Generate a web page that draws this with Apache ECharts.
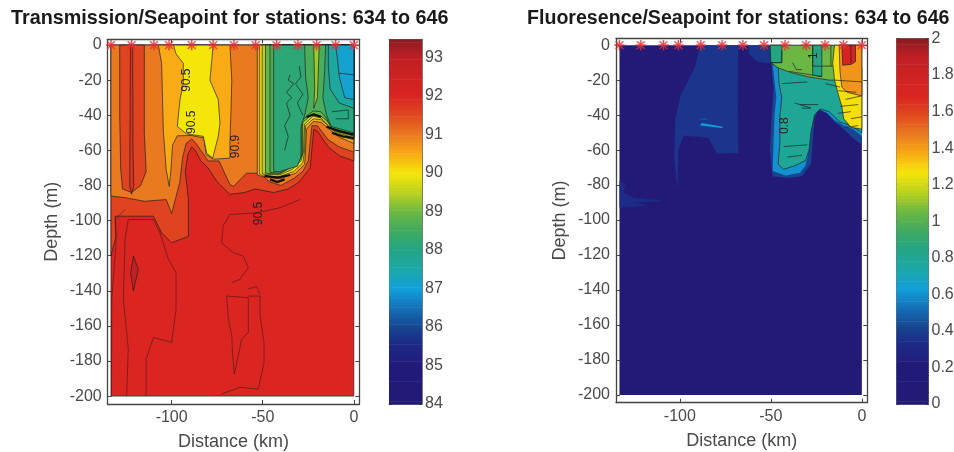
<!DOCTYPE html>
<html><head><meta charset="utf-8">
<style>html,body{margin:0;padding:0;background:#fff}#c{width:954px;height:452px;filter:blur(0.45px)}</style>
<script src="https://cdn.jsdelivr.net/npm/echarts@6/dist/echarts.min.js"></script>
</head><body><div id="c"></div>
<script>
const stationsLeft = [-133.3,-122,-109.7,-101.4,-89,-77.2,-65.8,-53.9,-42.4,-30.7,-20.4,-10,0];
const stationsRight = [-133.2,-121.5,-109,-100.8,-88.5,-76.8,-65.4,-53.7,-42.2,-30.6,-20.2,-10.1,0];
const xTicks = [-100,-50,0];
const yTicks = [0,-20,-40,-60,-80,-100,-120,-140,-160,-180,-200];
const transTicks = [84,85,86,87,88,89,90,91,92,93];
const fluorTicks = [0,0.2,0.4,0.6,0.8,1,1.2,1.4,1.6,1.8,2];

// Filled contour regions: [value, [[km, depth], ...]], painted in order.
const transBands = [
 [92,[[-133.3,0],[0,0],[0,-200],[-133.3,-200]]],
 [92.9,[[-121,-120.2],[-118.3,-127.8],[-121,-140],[-122.5,-129.7]]],
 [91.6,[[-133.3,0],[0,0],[0,-66],[-8,-63],[-14,-58],[-20,-49],[-22,-48],[-24,-70],[-30,-78],[-36,-82],[-44,-84],[-54,-82],[-60,-84],[-68,-85],[-75,-78],[-80,-70],[-84,-66],[-87,-60],[-89,-58],[-91,-62],[-92.5,-72],[-90.8,-88],[-90.8,-109],[-100,-112.6],[-105.5,-107],[-110,-97.5],[-124.7,-97.5],[-131,-97.5],[-130.5,-109],[-133.3,-120]]],
 [91,[[-133.3,0],[0,0],[0,-61],[-8,-58],[-14,-54],[-20,-46],[-23,-46],[-25,-66],[-28,-72],[-33,-76],[-40,-80],[-46,-78],[-52,-73],[-59,-73],[-66,-80.5],[-68,-79.5],[-74,-66],[-80,-66],[-84,-60],[-87,-55.5],[-89,-53.5],[-92,-56],[-94,-64],[-95.5,-78],[-98,-88],[-100,-96],[-103,-88],[-115,-89],[-125,-87],[-133.3,-86]]],
 [91.6,[[-128.5,0],[-115,0],[-115,-50],[-114,-72],[-117,-80],[-122,-84],[-127,-82],[-128,-70],[-128.5,-40]]],
 [91.85,[[-122.6,0],[-121.4,0],[-121.2,-60],[-120.8,-80],[-122,-85],[-123,-80],[-122.8,-40]]],
 [90.5,[[-107.3,0],[-68,0],[-67,-20],[-67.5,-40],[-68,-55],[-68,-64.4],[-77,-65],[-81,-62.5],[-82.3,-53],[-89,-51.5],[-96.9,-51.7],[-99.5,-57],[-100.4,-71],[-101.3,-80.5],[-103,-71],[-104.6,-48.3],[-105.5,-10.5]]],
 [90,[[-99,0],[-77.2,0],[-79,-20],[-74.4,-31.2],[-73.5,-44.5],[-74.4,-52],[-77.5,-64.4],[-80.8,-61.5],[-82.6,-52],[-91.8,-50.6],[-96.9,-46.4],[-95.4,-31],[-93.6,-22],[-93.6,-10.4],[-97.6,-5]]],
 [90.5,[[-53,0],[0,0],[0,-56],[-8,-52.5],[-14,-47.5],[-18,-44],[-22.3,-43.5],[-26,-48],[-26.5,-60],[-27,-68],[-32,-73],[-40,-76],[-50,-75],[-53,-74]]],
 [90,[[-51.7,0],[0,0],[0,-54],[-9,-51],[-14,-46],[-18,-42.5],[-22.3,-42],[-26.5,-46],[-27,-60],[-28,-67],[-33,-72],[-41,-75],[-50,-74.5],[-51.7,-73.5]]],
 [89.5,[[-50.3,0],[0,0],[0,-53],[-10,-49.5],[-15,-45],[-18,-41.5],[-22.3,-40.5],[-27,-45],[-27.5,-60],[-29,-66],[-34,-71],[-41,-74],[-50.3,-73.5]]],
 [88.9,[[-48.5,0],[0,0],[0,-52],[-11,-48.5],[-15,-43],[-18,-40.5],[-22.3,-39],[-28,-44],[-28,-62],[-30,-66],[-36,-70.5],[-41,-73.5],[-48.5,-73]]],
 [88.6,[[-46,0],[0,0],[0,-51],[-12,-47.5],[-15.5,-41],[-18,-38],[-22.3,-37.5],[-28.5,-43],[-28.5,-62],[-31,-68],[-37,-71],[-41,-73],[-46,-72.5]]],
 [88.2,[[-44,0],[-27,0],[-26.5,-18],[-25,-30],[-27,-40],[-29,-46.4],[-29,-63.5],[-31,-69],[-40.6,-72],[-44,-72]]],
 [89.3,[[-22,0],[-19,0],[-20,-30],[-22,-36],[-21.5,-25]]],
 [88.1,[[-15.5,0],[0,0],[0,-50],[-12.3,-46.4],[-15,-40],[-17,-30],[-16,-15]]],
 [87.6,[[-14,0],[0,0],[0,-36],[-8,-33],[-13,-25],[-14,-12]]],
 [87.1,[[-10,0],[0,0],[0,-31],[-5,-30],[-8,-18],[-9,-8]]]
];
const fluorBands = [
 [0.08,[[-133.2,0],[0,0],[0,-200],[-133.2,-200]]],
 [0.37,[[-88.9,0],[-67.8,0],[-68.3,-29.4],[-67.8,-61.6],[-79.7,-62],[-84.3,-53],[-98,-51.7],[-100.8,-59.7],[-101.3,-82.4],[-103.1,-63.5],[-102.6,-42.6],[-99.8,-29.4],[-91.6,-12.3]]],
 [0.37,[[-62.3,0],[-50.4,0],[-50.4,-10.4],[-57.7,-9.5],[-62.3,-4.7]]],
 [0.34,[[-133.2,-77.7],[-130,-79.5],[-131,-84.3],[-125.5,-87.1],[-109,-89],[-123.7,-90],[-118,-92],[-133.2,-92.8]]],
 [0.62,[[-89,-46],[-76,-47.5],[-77,-46.5],[-88,-44.5]]],
 [0.45,[[-89,-42.8],[-85,-42.8],[-85,-42],[-89,-42]]],
 [0.42,[[-50.4,0],[0,0],[0,-57],[-5,-53],[-10,-48],[-15,-44],[-20,-38],[-24,-37],[-26,-42],[-27,-55],[-28,-68],[-33,-75],[-40,-76],[-49,-75],[-50.5,-60],[-49.5,-40],[-48.5,-25],[-49.5,-15]]]
];
const fluorBandsInner = [
 [0.6,[[-49,-11],[0,-11],[0,-52],[-5,-48],[-10,-46],[-15,-43],[-19,-39],[-23,-37],[-25.5,-38],[-27.5,-45],[-29,-60],[-31,-69],[-34,-73],[-42,-74.5],[-49,-72],[-48.5,-55],[-48,-40],[-47,-30]]],
 [0.8,[[-46,-13],[0,-13],[0,-50],[-6,-46],[-12,-44],[-18,-38],[-23,-36.5],[-26,-40],[-28,-50],[-29,-60],[-31,-66],[-37,-69],[-43,-71],[-46,-68],[-45,-55],[-45,-40],[-44,-30],[-45.5,-22]]],
 [1.05,[[-50.4,0],[-14,0],[-14,-20],[-18,-20],[-30,-18],[-38,-16],[-46,-13],[-50,-10]]],
 [0.85,[[-50.4,0],[-44,0],[-44,-10],[-50,-10]]],
 [0.85,[[-27,0],[-22,0],[-22,-18],[-27,-17]]],
 [1.28,[[-15,0],[0,0],[0,-48],[-6,-47],[-10,-42],[-11,-35],[-13,-28],[-15,-20],[-16,-10]]],
 [1.42,[[-12.5,0],[0,0],[0,-29],[-8,-27],[-11,-24],[-12,-15]]],
 [1.72,[[-11,0],[-3.5,0],[-3.5,-9.5],[-6,-11],[-10.5,-11.5]]]
];

// Thin contour lines with no fill change.
const transLines = [
 [[-124.7,-199.7],[-123.8,-173],[-126.5,-145],[-125.6,-110.7],[-123.8,-99.4],[-110,-99.4],[-106.4,-107],[-101.8,-122],[-97.6,-129.7],[-97.6,-150.5],[-100,-169.4],[-110,-166.6],[-114,-179],[-114,-199.7]],
 [[-133,-199],[-132.9,-145],[-130.5,-112.6],[-131,-99.4],[-125.6,-93.7]],
 [[-29.6,-88],[-40.6,-92.7],[-53.4,-95.6],[-68,-96.5],[-71.7,-103],[-72.6,-112.6],[-66.2,-118.3],[-60.7,-120.2],[-57.9,-126.8],[-62.5,-133.5],[-67,-135.3]],
 [[-69.8,-143],[-68.9,-156],[-67,-165.6],[-66.5,-177],[-65.6,-187.4],[-63.4,-177],[-61.6,-167.5],[-57.9,-163.8],[-57.9,-143.9],[-69.8,-143]],
 [[-57.9,-143],[-51.5,-143],[-51.5,-154],[-49.3,-169.4],[-49.3,-180.8],[-52.4,-196],[-62.5,-195],[-72.6,-198.8]],
 [[-58,-139],[-53.4,-137.6],[-51.5,-142]],
 [[-35,-17],[-36,-20],[-33,-22],[-37,-27],[-34,-30],[-37,-33],[-35,-40],[-38,-46],[-36,-52],[-38,-60]],
 [[-30,-12],[-29,-18],[-32,-22],[-28,-28],[-31,-33],[-28,-40]],
 [[-8,-16],[0,-17]],[[-12,-38],[-3,-37],[-3,-42],[-10,-42]]
];
const transHeavy = [
 [[-49,-74.5],[-42,-75.5],[-35,-74]],[[-46,-76.5],[-42,-78],[-38,-76.5]],
 [[-15,-46.5],[-8,-49],[0,-51]],[[-12,-50],[-6,-52],[0,-53]],
 [[-26,-41],[-22,-39.5],[-18,-41]]
];
const fluorLines = [
 [[-15,-20],[0,-21]],[[-13,-26],[-3,-27]],[[-9,-31],[0,-29]],[[-12,-35],[-2,-34]],[[-6,-42],[0,-41]],[[-9,-47],[-2,-46]],[[-13,-39],[-6,-38]],
 [[-44,-22],[-30,-21]],[[-34,-34],[-24,-34]],[[-43,-58],[-30,-57]],[[-41,-64],[-33,-63]],[[-38,-10],[-36,-14],[-33,-14]],[[-44,-3],[-44,-10],[-50,-10]],[[-27,0],[-27,-12],[-16,-12]],[[-20,-22],[-12,-24]],[[-37,-33],[-28,-36],[-33,-36]],
 [[-40,-15],[-22,-18]],[[-17,0],[-17,-12]],[[-6,0],[-6,-10]]
];
const transLabels = [["90.5",-91.8,-20],["90.9",-65,-57.8],["90.5",-88.8,-44],["90.5",-52,-96]];
const fluorLabels = [["0.8",-42.5,-46],["1",-26.5,-6]];

const CB_TRANS_MAX = 93.47;
const colorStops = [[84,'#231a78'],[85,'#221a78'],[85.6,'#1c2a88'],[86,'#17468f'],[86.5,'#1570b8'],[87,'#12a0d8'],[87.5,'#1ca8a8'],[88,'#22a585'],[88.5,'#40aa60'],[89,'#6cb842'],[89.5,'#bcd21f'],[90,'#f5e60a'],[90.5,'#f8ab15'],[91,'#ea7a20'],[91.5,'#e04a1f'],[92,'#da2521'],[93,'#c02025'],[93.47,'#8c1c22']];
function hex(c){return [1,3,5].map(i=>parseInt(c.substr(i,2),16));}
function colorOf(v){
  for(let i=1;i<colorStops.length;i++){
    if(v<=colorStops[i][0]){
      const a=colorStops[i-1],b=colorStops[i],t=Math.max(0,(v-a[0])/(b[0]-a[0]));
      const p=hex(a[1]),q=hex(b[1]);
      return 'rgb('+p.map((x,k)=>Math.round(x+(q[k]-x)*t)).join(',')+')';
    }
  }
  return colorStops[colorStops.length-1][1];
}
const fluorToScale = v => 84 + v*(CB_TRANS_MAX-84)/2;
const STROKE='rgba(30,30,30,0.85)';
const STROKE_SOFT='rgba(70,25,25,0.75)';

function bandSeries(bands,conv,lines,heavy,labels,ax,noStrokeBelow){
  const list=[
    ...bands.map(b=>({k:'b',v:conv(b[0]),p:b[1]})),
    ...lines.map(l=>({k:'l',p:l})),
    ...heavy.map(l=>({k:'h',p:l})),
    ...labels.map(l=>({k:'t',s:l[0],p:[[l[1],l[2]]]}))
  ];
  return {
    type:'custom',xAxisIndex:ax,yAxisIndex:ax,silent:true,clip:false,z:2,
    data:list.map((d,i)=>[d.p[0][0],d.p[0][1],i]),
    encode:{x:0,y:1},
    renderItem(params,api){
      const d=list[api.value(2)];
      const pts=d.p.map(q=>api.coord(q));
      if(d.k==='b') return {type:'polygon',shape:{points:pts},style:{fill:colorOf(d.v),stroke:d.v<noStrokeBelow?null:STROKE,lineWidth:0.8}};
      if(d.k==='l') return {type:'polyline',shape:{points:pts},style:{fill:null,stroke:d.p[0][1]<-85?STROKE_SOFT:STROKE,lineWidth:0.8}};
      if(d.k==='h') return {type:'polyline',shape:{points:pts},style:{fill:null,stroke:'#111',lineWidth:2.2}};
      return {type:'text',x:pts[0][0],y:pts[0][1],rotation:Math.PI/2,style:{text:d.s,fill:'#222',font:'12px "Liberation Sans"',align:'center',verticalAlign:'middle'}};
    }
  };
}
const ASTERISK='path://M4.4 0h1.2v10H4.4z M0 4.4h10v1.2H0z M0.8 1.6L1.6 0.8 9.2 8.4 8.4 9.2z M0.8 8.4L1.6 9.2 9.2 1.6 8.4 0.8z';
function stars(xs,ax){return {type:'scatter',xAxisIndex:ax,yAxisIndex:ax,clip:false,z:5,silent:true,symbol:ASTERISK,symbolSize:10,
  itemStyle:{color:'#e2313a',borderColor:'#e2313a',borderWidth:0.4},data:xs.map(x=>[x,0])};}

const cbLevels=[];for(let i=0;i<128;i++)cbLevels.push(i);
function cbSeries(ax,min,max){
  return {type:'custom',xAxisIndex:ax,yAxisIndex:ax,silent:true,z:2,
    data:cbLevels.map(i=>[0,i]),encode:{x:0,y:1},
    renderItem(p,api){
      const i=api.value(1),h=(max-min)/cbLevels.length;
      const a=api.coord([0,min+i*h]),b=api.coord([1,min+(i+1)*h]);
      return {type:'rect',shape:{x:a[0],y:b[1],width:b[0]-a[0],height:a[1]-b[1]+0.6},style:{fill:colorOf(84+(i+0.5)/cbLevels.length*(CB_TRANS_MAX-84))}};
    }};
}

const AX='#444',TXT='#4a4a4a',FF='Liberation Sans';
const lineCfg={show:true,onZero:false,lineStyle:{color:AX,width:1.3}};
const thinLine={show:true,onZero:false,lineStyle:{color:'#555',width:0.8}};
function tickCfg(vals,len){return {show:true,inside:true,length:len||4,customValues:vals,lineStyle:{color:AX,width:1}};}
function labelCfg(vals,m){return {show:true,customValues:vals,color:TXT,fontSize:16,fontFamily:FF,margin:m,showMinLabel:true,showMaxLabel:true,hideOverlap:false};}
const grids=[
 {left:107.7,top:39.3,width:251.6,height:364.7,outerBoundsMode:'none'},
 {left:616,top:38.5,width:251.3,height:364.2,outerBoundsMode:'none'},
 {left:389,top:39.3,width:33,height:364.7,outerBoundsMode:'none'},
 {left:896.5,top:38.5,width:32,height:365.5,outerBoundsMode:'none'}
];
const yRanges=[[-204.5,3.3],[-204.4,3.8]];
const xAxes=[],yAxes=[];
[0,1].forEach(g=>{
  xAxes.push({type:'value',gridIndex:g,min:-135.1,max:3,position:'bottom',splitLine:{show:false},axisLine:lineCfg,axisTick:tickCfg(xTicks),axisLabel:labelCfg(xTicks,6),
    name:'Distance (km)',nameLocation:'middle',nameGap:29,nameTextStyle:{fontSize:18,color:TXT,fontFamily:FF}});
  yAxes.push({type:'value',gridIndex:g,min:yRanges[g][0],max:yRanges[g][1],position:'left',splitLine:{show:false},axisLine:lineCfg,axisTick:tickCfg(yTicks),axisLabel:labelCfg(yTicks,6),
    name:'Depth (m)',nameLocation:'middle',nameGap:47,nameTextStyle:{fontSize:18,color:TXT,fontFamily:FF}});
});
[[84,CB_TRANS_MAX,transTicks],[0,2,fluorTicks]].forEach((c,i)=>{
  xAxes.push({type:'value',gridIndex:2+i,min:0,max:1,position:'bottom',splitLine:{show:false},axisLine:thinLine,axisTick:{show:false},axisLabel:{show:false}});
  yAxes.push({type:'value',gridIndex:2+i,min:c[0],max:c[1],position:'right',splitLine:{show:false},axisLine:thinLine,axisTick:tickCfg(c[2],3),axisLabel:labelCfg(c[2],3)});
});
// mirror axes for the closed box
[0,1,2,3].forEach(g=>{
  const plot=g<2;
  xAxes.push({type:'value',gridIndex:g,min:xAxes[g].min,max:xAxes[g].max,position:'top',splitLine:{show:false},axisLine:plot?lineCfg:thinLine,axisTick:plot?tickCfg(xTicks):{show:false},axisLabel:{show:false}});
  yAxes.push({type:'value',gridIndex:g,min:yAxes[g].min,max:yAxes[g].max,position:plot?'right':'left',splitLine:{show:false},axisLine:plot?lineCfg:thinLine,axisTick:plot?tickCfg(yTicks):tickCfg(g===2?transTicks:fluorTicks,3),axisLabel:{show:false}});
});
const chart=echarts.init(document.getElementById('c'),null,{renderer:'canvas'});
chart.setOption({
  backgroundColor:'#fff',animation:false,
  title:[
   {text:'Transmission/Seapoint for stations: 634 to 646',left:11,top:9,padding:0,textStyle:{fontSize:19.8,fontWeight:'bold',color:'#1a1a1a',fontFamily:FF}},
   {text:'Fluoresence/Seapoint for stations: 634 to 646',left:527,top:9,padding:0,textStyle:{fontSize:19.6,fontWeight:'bold',color:'#1a1a1a',fontFamily:FF}}
  ],
  grid:grids,xAxis:xAxes,yAxis:yAxes,
  series:[
   bandSeries(transBands,v=>v,transLines,transHeavy,transLabels,0,0),
   stars(stationsLeft,0),
   bandSeries(fluorBands.concat(fluorBandsInner),fluorToScale,fluorLines,[],fluorLabels,1,87.5),
   stars(stationsRight,1),
   cbSeries(2,84,CB_TRANS_MAX),
   cbSeries(3,0,2)
  ]
});
</script></body></html>
